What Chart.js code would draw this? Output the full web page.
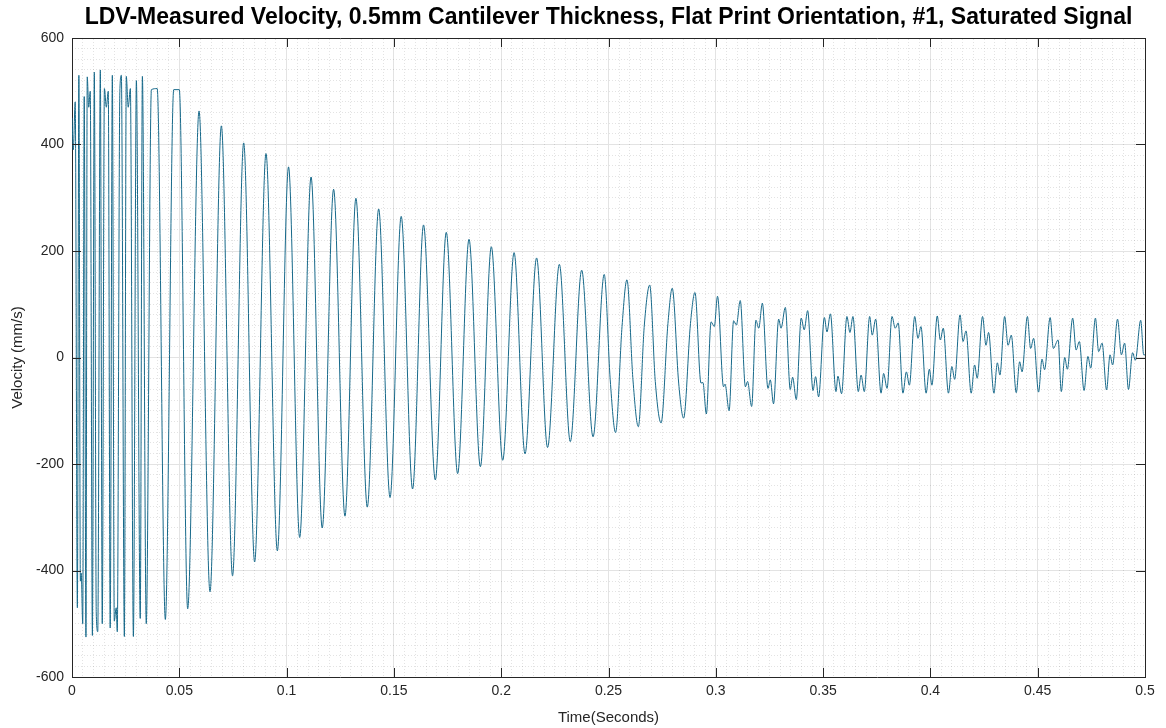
<!DOCTYPE html>
<html lang="en">
<head>
    <meta charset="UTF-8">
    <title>LDV-Measured Velocity</title>
    <script src="https://cdn.jsdelivr.net/npm/chart.js"></script>
    <style>
        body { margin: 0; background: #ffffff; }
        canvas { display: block; }
    </style>
</head>
<body>
    <canvas id="graficoVelocidade" width="1166" height="728"></canvas>

    <script>
        // Sinal (tempo em s, velocidade em mm/s)
        // trecho saturado do inicio
        const tempoSaturado = [0, 0.0006, 0.0015, 0.0025, 0.0032, 0.0039, 0.0043, 0.0050, 0.0057, 0.0065,
            0.0071, 0.0078, 0.0085, 0.0095, 0.0104, 0.0113, 0.0120, 0.0132, 0.0141, 0.0151,
            0.0160, 0.0169, 0.0178, 0.0188, 0.0197, 0.0206, 0.0211, 0.0223, 0.0230, 0.0244,
            0.0253, 0.0262, 0.0272, 0.0286, 0.0300, 0.0318, 0.0328, 0.0346];
        const velSaturado = [450, 390, 480, -470, 530, -420, -405, -500, 490, -525,
            527, 470, 500, -522, 536, -480, -515, 540, -500, 505,
            470, 500, -508, 530, -495, -470, -515, 500, 530, -524,
            528, 470, 505, -524, 520, -490, 528, -500];

        // decaimento (picos e vales)
        const tempoDecaimento = [0.0370, 0.0397, 0.0435, 0.0474, 0.0500, 0.0539, 0.0592, 0.0643, 0.0696, 0.0748,
            0.0800, 0.0851, 0.0904, 0.0957, 0.1009, 0.1061, 0.1114, 0.1166, 0.1219, 0.1272,
            0.1323, 0.1376, 0.1429, 0.1482, 0.1534, 0.1587, 0.1638, 0.1693, 0.1744, 0.1797,
            0.1850, 0.1903, 0.1954, 0.2007, 0.2060, 0.2111, 0.2165, 0.2216, 0.2271, 0.2322,
            0.2375, 0.2428, 0.2480, 0.2508, 0.2533, 0.2563, 0.2586, 0.2614, 0.2639, 0.2667,
            0.2692, 0.2718, 0.2745, 0.2777, 0.2797, 0.2827, 0.2850, 0.2882];
        const velDecaimento = [503, 505, -492, 503, 503, -472, 463, -440, 435, -410,
            403, -384, 383, -363, 358, -338, 339, -320, 316, -298,
            299, -281, 279, -263, 265, -247, 249, -230, 235, -218,
            222, -205, 208, -193, 197, -181, 187, -169, 175, -158,
            164, -149, 156, -42, -141, 58, 146, -42, -130, 61,
            136, -45, -123, 64, 130, -48, -114, 64];

        // final, com os picos duplos
        const tempoFinal = [0.2903, 0.2931, 0.2940, 0.2956,
            0.2978, 0.2993, 0.3008, 0.3036, 0.3043, 0.3062,
            0.3083, 0.3096, 0.3114, 0.3138, 0.3148, 0.3167,
            0.3187, 0.3200, 0.3217, 0.3243, 0.3254, 0.3269,
            0.3293, 0.3304, 0.3324, 0.3347, 0.3358, 0.3375,
            0.3398, 0.3412, 0.3428, 0.3453, 0.3465, 0.3479,
            0.3506, 0.3518, 0.3534, 0.3560, 0.3569, 0.3586,
            0.3611, 0.3625, 0.3639, 0.3664, 0.3677, 0.3692,
            0.3717, 0.3729, 0.3745, 0.3770, 0.3782, 0.3798,
            0.3821, 0.3836, 0.3850, 0.3872, 0.3888, 0.3902,
            0.3927, 0.3942, 0.3956, 0.3980, 0.3995, 0.4007,
            0.4032, 0.4046, 0.4060, 0.4084, 0.4100, 0.4113,
            0.4138, 0.4152, 0.4166, 0.4190, 0.4206, 0.4218,
            0.4243, 0.4259, 0.4271, 0.4296, 0.4312, 0.4324,
            0.4346, 0.4362, 0.4377, 0.4400, 0.4416, 0.4427,
            0.4452, 0.4467, 0.4481, 0.4504, 0.4520, 0.4532,
            0.4558, 0.4573, 0.4595, 0.4610, 0.4626, 0.4638,
            0.4663, 0.4679, 0.4694, 0.4716, 0.4734, 0.4747,
            0.4769, 0.4784, 0.4800, 0.4821, 0.4837, 0.4849,
            0.4872, 0.4890, 0.4905, 0.4923, 0.4942, 0.4955,
            0.4980, 0.4994, 0.5000];
        const velFinal = [122, -48, -47, -106,
            67, 58, 115, -55, -50, -100,
            69, 61, 107, -55, -45, -92,
            70, 55, 102, -58, -42, -87,
            72, 55, 94, -60, -37, -79,
            74, 52, 88, -62, -36, -74,
            75, 48, 82, -64, -35, -68,
            77, 47, 77, -64, -33, -64,
            77, 42, 72, -67, -30, -58,
            77, 55, 65, -67, -27, -52,
            77, 36, 58, -67, -22, -52,
            78, 33, 55, -67, -17, -41,
            80, 30, 50, -67, -14, -39,
            77, 23, 47, -67, -10, -33,
            77, 23, 42, -66, -8, -27,
            77, 17, 36, -65, -3, -23,
            75, 17, 33, -64, 0, -22,
            74, 14, 30, -62, 2, -20,
            74, 11, 27, -61, 5, -14,
            72, 5, 27, -60, 9, -5,
            70, 5, 5];

        // marcas dos eixos
        const ticksTempo = [0, 0.05, 0.1, 0.15, 0.2, 0.25, 0.3, 0.35, 0.4, 0.45, 0.5];
        const ticksVelocidade = [-600, -400, -200, 0, 200, 400, 600];

        document.addEventListener('DOMContentLoaded', function () {
            const tempo = tempoSaturado.concat(tempoDecaimento, tempoFinal);
            const velocidade = velSaturado.concat(velDecaimento, velFinal);
            const pontos = tempo.map((t, i) => ({ x: t, y: velocidade[i] }));

            const ehMarca = (valor, lista) => lista.some(v => Math.abs(v - valor) < 1e-9);
            const corEixo = '#262626';
            const corGrade = '#e3e3e3';
            const corGradeMenor = 'rgba(38,38,38,0.13)';
            const fonte = 'Liberation Sans, Arial, Helvetica, sans-serif';

            // marcas curtas para dentro, como no MATLAB
            const marcasInternas = {
                id: 'marcasInternas',
                afterDraw(chart) {
                    const { ctx, chartArea: a, scales } = chart;
                    const len = 9;
                    ctx.save();
                    ctx.strokeStyle = corEixo;
                    ctx.lineWidth = 1;
                    ctx.beginPath();
                    ticksTempo.forEach(v => {
                        const px = Math.round(scales.x.getPixelForValue(v)) + 0.5;
                        ctx.moveTo(px, a.bottom); ctx.lineTo(px, a.bottom - len);
                        ctx.moveTo(px, a.top); ctx.lineTo(px, a.top + len);
                    });
                    ticksVelocidade.forEach(v => {
                        const py = Math.round(scales.y.getPixelForValue(v)) + 0.5;
                        ctx.moveTo(a.left, py); ctx.lineTo(a.left + len, py);
                        ctx.moveTo(a.right, py); ctx.lineTo(a.right - len, py);
                    });
                    ctx.stroke();
                    ctx.restore();
                }
            };

            new Chart(document.getElementById('graficoVelocidade').getContext('2d'), {
                type: 'line',
                data: {
                    datasets: [{
                        label: 'Velocity',
                        data: pontos,
                        borderColor: '#17698a',
                        borderWidth: 1,
                        pointRadius: 0,
                        fill: false,
                        cubicInterpolationMode: 'monotone'
                    }]
                },
                options: {
                    responsive: false,
                    animation: false,
                    devicePixelRatio: 1,
                    layout: { padding: 0 },
                    plugins: {
                        legend: { display: false },
                        tooltip: { enabled: false },
                        title: {
                            display: true,
                            fullSize: false,
                            text: 'LDV-Measured Velocity, 0.5mm Cantilever Thickness, Flat Print Orientation, #1, Saturated Signal',
                            color: '#000000',
                            font: { family: fonte, size: 23, weight: 'bold', lineHeight: 1 },
                            padding: { top: 6, bottom: 0 }
                        }
                    },
                    scales: {
                        x: {
                            type: 'linear',
                            position: 'bottom',
                            min: 0,
                            max: 0.5,
                            afterFit: s => { s.height = 51; },
                            ticks: {
                                stepSize: 0.05,
                                autoSkip: false,
                                maxRotation: 0,
                                padding: 6,
                                color: corEixo,
                                font: { family: fonte, size: 14 },
                                callback: v => String(Math.round(v * 100) / 100)
                            },
                            grid: { color: corGrade, lineWidth: 1, drawTicks: false },
                            border: { display: true, color: corEixo, width: 1 },
                            title: {
                                display: true,
                                text: 'Time(Seconds)',
                                color: corEixo,
                                font: { family: fonte, size: 15 },
                                padding: { top: 0, bottom: 1 }
                            }
                        },
                        y: {
                            type: 'linear',
                            position: 'left',
                            min: -600,
                            max: 600,
                            afterFit: s => { s.width = 72; },
                            ticks: {
                                stepSize: 200,
                                autoSkip: false,
                                padding: 8,
                                color: corEixo,
                                font: { family: fonte, size: 14 }
                            },
                            grid: { color: corGrade, lineWidth: 1, drawTicks: false },
                            border: { display: true, color: corEixo, width: 1 },
                            title: {
                                display: true,
                                text: 'Velocity (mm/s)',
                                color: corEixo,
                                font: { family: fonte, size: 15 },
                                padding: { top: 9, bottom: 0 }
                            }
                        },
                        // eixos de cima e da direita: caixa + grade menor pontilhada
                        x2: {
                            type: 'linear',
                            position: 'top',
                            min: 0,
                            max: 0.5,
                            afterFit: s => { s.height = 9; },
                            ticks: { display: false, stepSize: 0.005, autoSkip: false },
                            grid: {
                                color: ctx => ehMarca(ctx.tick.value, ticksTempo) ? 'rgba(0,0,0,0)' : corGradeMenor,
                                lineWidth: 1,
                                drawTicks: false
                            },
                            border: { display: true, color: corEixo, width: 1, dash: [1, 2] }
                        },
                        y2: {
                            type: 'linear',
                            position: 'right',
                            min: -600,
                            max: 600,
                            afterFit: s => { s.width = 21; },
                            ticks: { display: false, stepSize: 20, autoSkip: false },
                            grid: {
                                color: ctx => ehMarca(ctx.tick.value, ticksVelocidade) ? 'rgba(0,0,0,0)' : corGradeMenor,
                                lineWidth: 1,
                                drawTicks: false
                            },
                            border: { display: true, color: corEixo, width: 1, dash: [1, 2] }
                        }
                    }
                },
                plugins: [marcasInternas]
            });
        });
    </script>
</body>
</html>
